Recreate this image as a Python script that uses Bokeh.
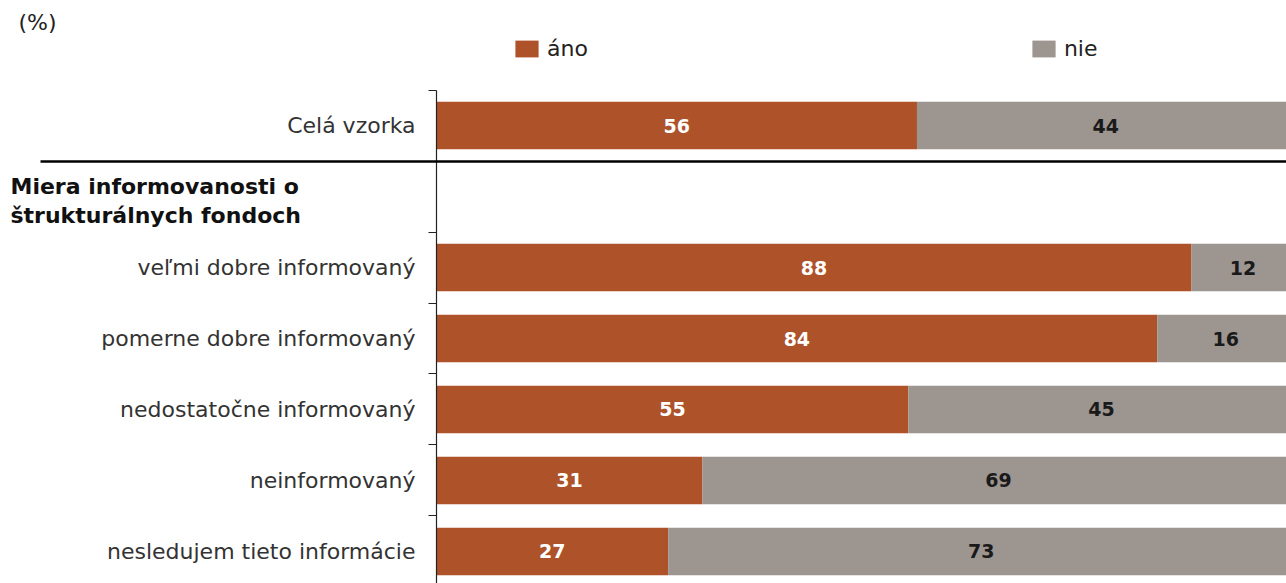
from bokeh.plotting import figure
from bokeh.models import (Range1d, FixedTicker, Legend, LegendItem, Label, ColumnDataSource,
                          Arrow, LinearAxis)
from bokeh.core.properties import value
from bokeh.embed import file_html
from bokeh.resources import INLINE

# ---- data ----
row_labels = ["Celá vzorka", "", "veľmi dobre informovaný", "pomerne dobre informovaný",
              "nedostatočne informovaný", "neinformovaný", "nesledujem tieto informácie"]
data_rows = [0, 2, 3, 4, 5, 6]          # slots that carry bars
ano = [56, 88, 84, 55, 31, 27]
nie = [44, 12, 16, 45, 69, 73]
group_title = "Miera informovanosti o\nštrukturálnych fondoch"
group_row = 1.06
unit_text = "(%)"
series = ["áno", "nie"]
colors = ["#AE5229", "#9C9590"]

FONT = "DejaVu Sans"
W, H = 1286, 583

p = figure(width=W, height=H, output_backend="svg", toolbar_location=None,
           x_range=Range1d(-50.82, 99.07), y_range=Range1d(6.451, -1.761),
           min_border_left=0, min_border_right=0, min_border_top=0, min_border_bottom=0)
p.outline_line_color = None
p.xgrid.visible = False
p.ygrid.visible = False
p.xaxis.visible = False
p.yaxis.visible = False

src = ColumnDataSource(dict(
    y=data_rows, ano=ano, nie=nie,
    tot=[a + n for a, n in zip(ano, nie)],
    ano_mid=[a / 2 for a in ano],
    nie_mid=[a + n / 2 for a, n in zip(ano, nie)],
    ano_txt=[str(a) for a in ano], nie_txt=[str(n) for n in nie],
))

r1 = p.hbar(y="y", left=0, right="ano", height=0.67, source=src,
            fill_color=colors[0], line_color=None)
r2 = p.hbar(y="y", left="ano", right="tot", height=0.67, source=src,
            fill_color=colors[1], line_color=None)

p.text(x="ano_mid", y="y", text="ano_txt", source=src, text_align="center",
       text_baseline="middle", text_color="white", text_font=value(FONT),
       text_font_size="19px", text_font_style="bold")
p.text(x="nie_mid", y="y", text="nie_txt", source=src, text_align="center",
       text_baseline="middle", text_color="#1a1a1a", text_font=value(FONT),
       text_font_size="19px", text_font_style="bold")

# category axis, drawn at x = 0 inside the frame
n = len(row_labels)
centers = list(range(n))
bounds = [k - 0.5 for k in range(n + 1)]
ax = LinearAxis(fixed_location=0)
ax.ticker = FixedTicker(ticks=centers, minor_ticks=bounds)
ax.bounds = (-0.5, 6.451)
ax.major_label_overrides = {k: lab for k, lab in enumerate(row_labels)}
ax.major_tick_out = 0
ax.major_tick_in = 0
ax.minor_tick_out = 8
ax.minor_tick_in = 0
ax.axis_line_color = "#222222"
ax.axis_line_width = 1.2
ax.minor_tick_line_color = "#222222"
ax.major_label_standoff = 13
ax.major_label_text_font = FONT
ax.major_label_text_font_size = "22px"
ax.major_label_text_color = "#333333"
p.add_layout(ax, "left")

# group title, unit text
p.add_layout(Label(x=10, y=group_row, x_units="screen", y_units="data", text=group_title,
                   text_font=FONT, text_font_size="22px", text_font_style="bold",
                   text_color="#111111", text_baseline="middle", text_align="left",
                   text_line_height=1.15))
p.add_layout(Label(x=18, y=H - 22, x_units="screen", y_units="screen", text=unit_text,
                   text_font=FONT, text_font_size="22px", text_color="#222222",
                   text_baseline="middle", text_align="left"))

# separator line between total sample and groups
p.add_layout(Arrow(end=None, x_start=40, y_start=H - 161, x_end=W, y_end=H - 161,
                   start_units="screen", end_units="screen",
                   line_color="black", line_width=2.5))

legend = Legend(items=[LegendItem(label=series[0], renderers=[r1]),
                       LegendItem(label=series[1], renderers=[r2])],
                orientation="horizontal", location=(512, H - 61),
                glyph_width=29, glyph_height=21, label_standoff=6, spacing=441,
                padding=0, margin=0, border_line_color=None, background_fill_alpha=0,
                label_text_font=FONT, label_text_font_size="22px", label_text_color="#222222")
p.add_layout(legend)

open("out.html", "w").write(file_html(p, INLINE))
